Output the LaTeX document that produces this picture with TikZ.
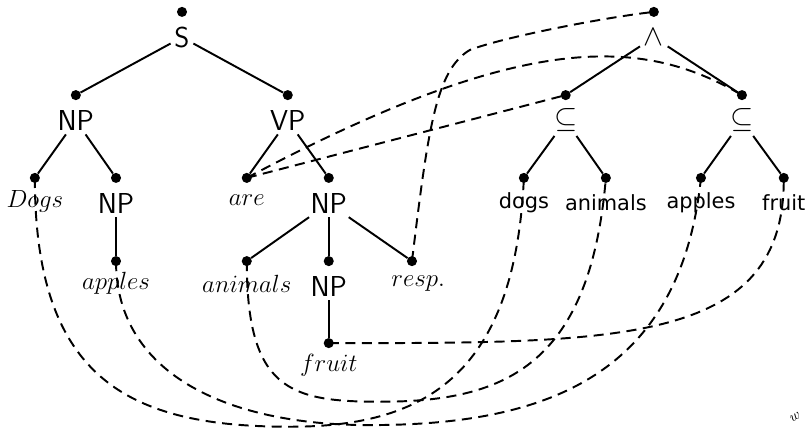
\documentclass[tikz,border=0pt]{standalone}
\usepackage{amsmath,amssymb}
\usepackage{fontspec}
\newfontfamily\djv{DejaVu Sans}
\usepackage{tikz}

\begin{document}
\begin{tikzpicture}[
        dot/.style={circle, fill, inner sep=0pt, minimum size=7pt},
        word/.style={inner sep=2.5pt, font=\fontsize{20}{24}\selectfont\sffamily},
        itword/.style={inner sep=2.5pt, font=\fontsize{18}{22}\selectfont},
        lfword/.style={inner sep=2.5pt, font=\fontsize{14.5}{18}\selectfont\djv},
        edge/.style={line width=1.35pt},
        link/.style={line width=1.35pt, dash pattern=on 7pt off 4.5pt}]
        \useasboundingbox (0,0) rectangle (19.76,-10.44);

        % Syntax tree
        \node[dot] (sdot) at (4.44,-0.29) {};
        \node[word, below of=sdot, node distance=0.62cm] (s) {S};
        \node[dot] (npadot) at (1.85,-2.32) {};
        \node[word, below of=npadot, node distance=0.62cm] (npa) {NP};
        \node[dot] (vpdot) at (7.02,-2.32) {};
        \node[word, below of=vpdot, node distance=0.62cm] (vp) {VP};

        \node[dot] (dogsdot) at (0.85,-4.34) {};
        \node[itword, below of=dogsdot, node distance=0.58cm] (dogs) {$Dogs$};
        \node[dot] (npbdot) at (2.83,-4.34) {};
        \node[word, below of=npbdot, node distance=0.62cm] (npb) {NP};
        \node[dot] (aredot) at (6.02,-4.34) {};
        \node[itword, below of=aredot, node distance=0.55cm] (are) {$are$};
        \node[dot] (npcdot) at (8.02,-4.34) {};
        \node[word, below of=npcdot, node distance=0.62cm] (npc) {NP};

        \node[dot] (applesdot) at (2.83,-6.37) {};
        \node[itword, below of=applesdot, node distance=0.55cm] (apples) {$apples$};
        \node[dot] (animalsdot) at (6.02,-6.37) {};
        \node[itword, below of=animalsdot, node distance=0.55cm] (animals) {$animals$};
        \node[dot] (npddot) at (8.02,-6.37) {};
        \node[word, below of=npddot, node distance=0.62cm] (npd) {NP};
        \node[dot] (respdot) at (10.05,-6.37) {};
        \node[itword, below of=respdot, node distance=0.55cm, xshift=0.15cm] (resp) {$resp.$};
        \node[dot] (fruitdot) at (8.02,-8.37) {};
        \node[itword, below of=fruitdot, node distance=0.55cm] (fruit) {$fruit$};

        \draw[edge] (s) -- (npadot);
        \draw[edge] (s) -- (vpdot);
        \draw[edge] (npa) -- (dogsdot);
        \draw[edge] (npa) -- (npbdot);
        \draw[edge] (vp) -- (aredot);
        \draw[edge] (vp) -- (npcdot);
        \draw[edge] (npb) -- (applesdot);
        \draw[edge] (npc) -- (animalsdot);
        \draw[edge] (npc) -- (npddot);
        \draw[edge] (npc) -- (respdot);
        \draw[edge] (npd) -- (fruitdot);

        % Logical form
        \node[dot] (anddot) at (15.95,-0.29) {};
        \node[word, below of=anddot, node distance=0.62cm] (and) {$\wedge$};
        \node[dot] (subadot) at (13.80,-2.32) {};
        \node[word, below of=subadot, node distance=0.62cm] (suba) {$\subseteq$};
        \node[dot] (subbdot) at (18.10,-2.32) {};
        \node[word, below of=subbdot, node distance=0.62cm] (subb) {$\subseteq$};
        \node[dot] (ldogsdot) at (12.78,-4.34) {};
        \node[lfword, below of=ldogsdot, node distance=0.6cm] (ldogs) {dogs};
        \node[dot] (lanimalsdot) at (14.78,-4.34) {};
        \node[lfword, below of=lanimalsdot, node distance=0.6cm] (lanimals) {animals};
        \node[dot] (lapplesdot) at (17.10,-4.34) {};
        \node[lfword, below of=lapplesdot, node distance=0.6cm] (lapples) {apples};
        \node[dot] (lfruitdot) at (19.12,-4.34) {};
        \node[lfword, below of=lfruitdot, node distance=0.6cm] (lfruit) {fruit};

        \draw[edge] (and) -- (subadot);
        \draw[edge] (and) -- (subbdot);
        \draw[edge] (suba) -- (ldogsdot);
        \draw[edge] (suba) -- (lanimalsdot);
        \draw[edge] (subb) -- (lapplesdot);
        \draw[edge] (subb) -- (lfruitdot);

        % Alignment links
        \draw[link] (aredot.center) -- (subadot.center);
        \draw[link] (aredot.center) .. controls (12.68,-0.80) and (15.61,-0.85) .. (subbdot.center);
        \draw[link] (respdot.center) .. controls (10.44,-3.17) and (10.63,-1.71) .. (11.46,-1.22)
            .. controls (12.20,-0.93) and (14.63,-0.44) .. (anddot.center);
        \draw[link] (dogsdot.center) .. controls (0.85,-9.27) and (3.17,-10.41) .. (7.07,-10.41)
            .. controls (10.24,-10.41) and (12.56,-9.27) .. (ldogsdot.center);
        \draw[link] (applesdot.center) .. controls (2.83,-9.02) and (5.37,-10.37) .. (9.02,-10.37)
            .. controls (13.17,-10.37) and (16.59,-9.27) .. (lapplesdot.center);
        \draw[link] (animalsdot.center) .. controls (6.02,-9.51) and (7.07,-9.80) .. (9.27,-9.80)
            .. controls (12.20,-9.80) and (14.39,-9.02) .. (lanimalsdot.center);
        \draw[link] (fruitdot.center) .. controls (15.12,-8.37) and (19.15,-8.41) .. (lfruitdot.center);

        \node[rotate=30, font=\normalsize, inner sep=0pt] (stray) at (19.40,-10.18) {$w$};
\end{tikzpicture}
\end{document}
